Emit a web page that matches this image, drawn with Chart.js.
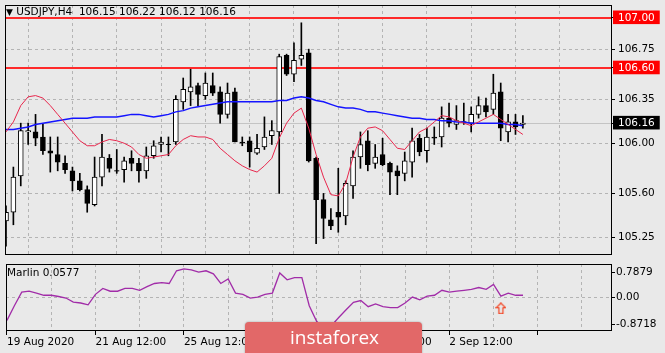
<!DOCTYPE html>
<html>
<head>
<meta charset="utf-8">
<title>USDJPY H4</title>
<script src="https://cdn.jsdelivr.net/npm/chart.js@4.4.1/dist/chart.umd.min.js"></script>
<style>
  html, body { margin: 0; padding: 0; background: #e9e9e9; }
  #wrap { position: relative; width: 665px; height: 353px; overflow: hidden; }
  #mainChart { position: absolute; left: 0; top: 0; }
  #subChart { position: absolute; left: 0; top: 258px; }
  .txt { position: absolute; font-family: 'DejaVu Sans', sans-serif; font-size: 10.5px; line-height: 12px; color: #000; white-space: pre; }
  #header { left: 6px; top: 5px; }
  #header .tri { font-size: 9px; }
  #marlinTitle { left: 7px; top: 266px; }
  #logo { position: absolute; left: 245px; top: 322px; width: 177px; height: 40px; border-radius: 4px; background: #e26868; box-shadow: 0 0 2px rgba(0,0,0,0.35); }
  #logo span { position: absolute; left: 45px; top: 2px; font-family: 'Open Sans', sans-serif; font-size: 19px; color: #fff; }
</style>
</head>
<body>
<div id="wrap">
  <canvas id="mainChart" width="665" height="260"></canvas>
  <canvas id="subChart" width="665" height="95"></canvas>
  <div id="header" class="txt"><span class="tri">▼</span> <span id="headerText"></span></div>
  <div id="marlinTitle" class="txt"></div>
  <div id="logo"><span>instaforex</span></div>
</div>
<script>
const symbolName = 'USDJPY,H4';

// H4 candles, oldest first
const opens = [105.38, 105.45, 105.74, 106.09, 106.09, 106.05, 105.94, 105.91, 105.84, 105.78,
  105.70, 105.63, 105.51, 105.73, 105.88, 105.78, 105.79, 105.88, 105.84, 105.78,
  105.90, 105.99, 105.99, 106.01, 106.33, 106.41, 106.46, 106.38, 106.46, 106.41,
  106.23, 106.41, 106.01, 106.02, 105.92, 105.97, 106.06, 106.09, 106.70, 106.55,
  106.67, 106.72, 105.88, 105.55, 105.39, 105.45, 105.42, 105.66, 105.89, 106.02,
  105.84, 105.91, 105.84, 105.78, 105.76, 105.85, 106.04, 105.94, 106.05, 106.05,
  106.20, 106.15, 106.17, 106.16, 106.23, 106.30, 106.27, 106.41, 106.09, 106.17,
  106.15];
const highs = [105.50, 105.81, 106.16, 106.16, 106.23, 106.15, 106.05, 106.05, 105.90, 105.81,
  105.76, 105.66, 105.89, 106.07, 105.91, 105.95, 105.89, 105.94, 105.88, 105.97,
  106.02, 106.05, 106.05, 106.38, 106.52, 106.59, 106.48, 106.56, 106.56, 106.45,
  106.48, 106.44, 106.05, 106.05, 106.07, 106.21, 106.18, 106.71, 106.71, 106.80,
  106.96, 106.75, 105.89, 105.60, 105.48, 105.80, 105.70, 105.94, 106.09, 106.10,
  105.99, 106.04, 105.85, 105.82, 105.93, 106.12, 106.07, 106.12, 106.13, 106.29,
  106.32, 106.30, 106.32, 106.29, 106.37, 106.36, 106.55, 106.48, 106.23, 106.23,
  106.22];
const lows = [105.18, 105.35, 105.66, 105.99, 105.98, 105.91, 105.77, 105.78, 105.76, 105.62,
  105.62, 105.45, 105.50, 105.66, 105.77, 105.76, 105.69, 105.78, 105.69, 105.72,
  105.88, 105.93, 105.90, 105.99, 106.27, 106.30, 106.30, 106.35, 106.38, 106.16,
  106.20, 106.01, 105.98, 105.81, 105.91, 105.95, 105.99, 105.60, 106.54, 106.49,
  106.62, 105.85, 105.20, 105.24, 105.31, 105.29, 105.35, 105.56, 105.80, 105.78,
  105.80, 105.82, 105.59, 105.59, 105.70, 105.73, 105.90, 105.85, 105.99, 105.97,
  106.13, 106.11, 106.15, 106.09, 106.20, 106.21, 106.23, 106.02, 106.01, 106.07,
  106.12];
const closes = [105.45, 105.73, 106.10, 106.10, 106.04, 105.94, 105.92, 105.85, 105.79, 105.70,
  105.63, 105.52, 105.73, 105.89, 105.80, 105.78, 105.86, 105.84, 105.78, 105.90,
  105.98, 106.01, 105.99, 106.35, 106.43, 106.45, 106.39, 106.48, 106.40, 106.23,
  106.40, 106.01, 106.00, 105.93, 105.96, 106.05, 106.10, 106.69, 106.55, 106.66,
  106.70, 105.86, 105.55, 105.40, 105.34, 105.41, 105.68, 105.89, 105.99, 105.83,
  105.89, 105.83, 105.77, 105.74, 105.86, 106.02, 105.93, 106.05, 106.04, 106.20,
  106.16, 106.18, 106.17, 106.23, 106.30, 106.25, 106.40, 106.12, 106.17, 106.13,
  106.16];

// moving averages
const redMa = [106.09, 106.17, 106.30, 106.37, 106.38, 106.36, 106.30, 106.23, 106.16, 106.09,
  106.02, 105.98, 105.98, 106.01, 106.03, 106.02, 106.00, 105.97, 105.91, 105.88,
  105.89, 105.90, 105.91, 105.98, 106.03, 106.06, 106.05, 106.05, 106.03, 105.96,
  105.91, 105.86, 105.82, 105.79, 105.77, 105.82, 105.88, 106.04, 106.16, 106.24,
  106.28, 106.12, 105.91, 105.73, 105.59, 105.58, 105.68, 105.89, 106.05, 106.12,
  106.13, 106.10, 106.03, 105.96, 105.95, 106.02, 106.09, 106.12, 106.17, 106.22,
  106.21, 106.18, 106.16, 106.14, 106.17, 106.20, 106.23, 106.19, 106.15, 106.11,
  106.07];
const blueMa = [106.11, 106.11, 106.12, 106.13, 106.15, 106.16, 106.17, 106.18, 106.19, 106.20,
  106.20, 106.20, 106.21, 106.21, 106.21, 106.21, 106.22, 106.23, 106.23, 106.22,
  106.21, 106.22, 106.23, 106.25, 106.26, 106.28, 106.29, 106.30, 106.31, 106.32,
  106.33, 106.33, 106.33, 106.33, 106.33, 106.33, 106.33, 106.34, 106.34, 106.36,
  106.37, 106.36, 106.34, 106.33, 106.31, 106.29, 106.28, 106.28, 106.27, 106.25,
  106.25, 106.24, 106.23, 106.22, 106.21, 106.20, 106.20, 106.19, 106.19, 106.18,
  106.18, 106.17, 106.17, 106.16, 106.16, 106.16, 106.16, 106.16, 106.15, 106.15,
  106.14];

// Marlin oscillator
const marlin = [-0.75, -0.28, 0.16, 0.19, 0.13, 0.06, 0.06, 0.02, -0.03, -0.16,
  -0.19, -0.25, 0.09, 0.28, 0.19, 0.19, 0.28, 0.28, 0.22, 0.34,
  0.44, 0.47, 0.44, 0.85, 0.91, 0.88, 0.81, 0.85, 0.75, 0.44,
  0.59, 0.13, 0.09, -0.03, 0.00, 0.09, 0.13, 0.78, 0.56, 0.63,
  0.63, -0.28, -0.78, -1.05, -0.92, -0.66, -0.41, -0.17, -0.11, -0.31,
  -0.22, -0.31, -0.34, -0.34, -0.19, 0.00, -0.09, 0.03, 0.06, 0.22,
  0.16, 0.19, 0.22, 0.25, 0.31, 0.25, 0.41, 0.03, 0.13, 0.06,
  0.06];
const marlinValueText = '0.0577';
const signalBars = [67];
const signalValues = [-0.36];

// axes
const timeLabels = ['19 Aug 2020', '21 Aug 12:00', '25 Aug 12:00', '27 Aug 12:00', '31 Aug 12:00', '2 Sep 12:00'];
const labelEvery = 12;
const gridEvery = 6;
const priceTicks = [105.25, 105.60, 106.00, 106.35, 106.75];
const levels = [107.00, 106.60];
const marlinTicks = [-0.8718, 0, 0.7879];
const marlinTickLabels = ['-0.8718', '0.00', '0.7879'];

// visible window
const xMin = -0.135, xMax = 82.07;
const yMin = 105.109, yMax = 107.102;
const mMin = -1.094, mMax = 1.069;

const gridColor = '#b4b4b4';
const axisFont = { family: 'DejaVu Sans', size: 10.5 };

const last = closes.length - 1;
const lastClose = closes[last];
const bars = closes.map((_, i) => i);

document.getElementById('headerText').textContent =
  `${symbolName}  ${opens[last].toFixed(2)} ${highs[last].toFixed(2)} ${lows[last].toFixed(2)} ${closes[last].toFixed(2)}`;
document.getElementById('marlinTitle').textContent = `Marlin ${marlinValueText}`;

const gridTicks = [];
for (let v = 0; v <= xMax; v += gridEvery) gridTicks.push(v);

const priceAxisValues = [...priceTicks, ...levels, lastClose].sort((a, b) => a - b);

// keep the plot box fixed: no extra room for overhanging tick labels
const noOverhang = s => {
  s.paddingTop = 0; s.paddingBottom = 0; s.paddingLeft = 0; s.paddingRight = 0;
};

const framePlugin = {
  id: 'frame',
  afterDraw(chart) {
    const { ctx, chartArea: a } = chart;
    ctx.save();
    ctx.strokeStyle = '#000';
    ctx.lineWidth = 1;
    ctx.strokeRect(Math.round(a.left) + 0.5, Math.round(a.top) + 0.5,
      Math.round(a.right - a.left) - 1, Math.round(a.bottom - a.top) - 1);
    ctx.restore();
  }
};

const levelsPlugin = {
  id: 'levels',
  beforeDatasetsDraw(chart) {
    const { ctx, chartArea: a, scales: { y } } = chart;
    ctx.save();
    // bid line
    const by = Math.round(y.getPixelForValue(lastClose)) + 0.5;
    ctx.strokeStyle = '#c4c4c4';
    ctx.lineWidth = 1;
    ctx.beginPath(); ctx.moveTo(a.left, by); ctx.lineTo(a.right, by); ctx.stroke();
    // horizontal levels
    ctx.strokeStyle = '#ff2a2a';
    ctx.lineWidth = 2;
    levels.forEach(v => {
      const py = Math.round(y.getPixelForValue(v));
      ctx.beginPath(); ctx.moveTo(a.left, py); ctx.lineTo(a.right, py); ctx.stroke();
    });
    ctx.restore();
  }
};

const isBoxed = v => levels.includes(v) || v === lastClose;

new Chart(document.getElementById('mainChart'), {
  type: 'bar',
  data: {
    datasets: [
      {
        type: 'line', label: 'MA fast',
        data: bars.map(i => ({ x: i, y: redMa[i] })),
        borderColor: '#e8264c', borderWidth: 1, pointRadius: 0, tension: 0, order: 0
      },
      {
        type: 'line', label: 'MA slow',
        data: bars.map(i => ({ x: i, y: blueMa[i] })),
        borderColor: '#1414ff', borderWidth: 1.5, pointRadius: 0, tension: 0, order: 0
      },
      {
        type: 'line', label: 'doji',
        data: bars.filter(i => Math.abs(opens[i] - closes[i]) < 0.005).map(i => ({ x: i, y: closes[i] })),
        showLine: false, pointStyle: 'line', pointRadius: 2.5,
        pointBorderColor: '#000', pointBorderWidth: 1, order: 1
      },
      {
        label: 'body',
        data: bars.map(i => ({ x: i, y: [opens[i], closes[i]] })),
        backgroundColor: bars.map(i => closes[i] >= opens[i] ? '#ffffff' : '#000000'),
        borderColor: '#000', borderWidth: 1, borderSkipped: false,
        barThickness: 5, grouped: false, order: 2
      },
      {
        label: 'wick',
        data: bars.map(i => ({ x: i, y: [lows[i], highs[i]] })),
        backgroundColor: '#000', borderWidth: 0,
        barThickness: 1, grouped: false, order: 3
      }
    ]
  },
  options: {
    responsive: false,
    animation: false,
    events: [],
    layout: { padding: { left: 2, top: 3, right: 0, bottom: 2 } },
    plugins: { legend: { display: false }, tooltip: { enabled: false } },
    scales: {
      x: {
        type: 'linear', min: xMin, max: xMax, offset: false,
        afterBuildTicks: s => { s.ticks = gridTicks.map(v => ({ value: v })); },
        afterFit: s => { s.height = 0; noOverhang(s); },
        ticks: { display: false },
        grid: { color: c => (c.tick && c.tick.value > 0) ? gridColor : 'transparent', drawTicks: false },
        border: { display: false, dash: [3, 3] }
      },
      y: {
        position: 'right', min: yMin, max: yMax,
        afterBuildTicks: s => { s.ticks = priceAxisValues.map(v => ({ value: v })); },
        afterFit: s => { s.width = 53; noOverhang(s); },
        ticks: {
          autoSkip: false, padding: 3, font: axisFont,
          color: c => isBoxed(c.tick.value) ? '#fff' : '#000',
          showLabelBackdrop: c => isBoxed(c.tick.value),
          backdropColor: c => levels.includes(c.tick.value) ? '#ff0000' : '#000000',
          backdropPadding: { left: 5, right: 5, top: 1, bottom: 0 },
          callback: v => v.toFixed(2)
        },
        grid: {
          color: c => (c.tick && priceTicks.includes(c.tick.value)) ? gridColor : 'transparent',
          tickLength: 3, tickColor: '#000', tickBorderDash: []
        },
        border: { display: false, dash: [3, 3] }
      }
    }
  },
  plugins: [levelsPlugin, framePlugin]
});

// outlined up arrow for the signal mark
const arrowIcon = document.createElement('canvas');
arrowIcon.width = 11;
arrowIcon.height = 12;
const g = arrowIcon.getContext('2d');
g.strokeStyle = '#f2401e';
g.lineWidth = 1.2;
g.beginPath();
g.moveTo(5.5, 0.8); g.lineTo(10.2, 5.5); g.lineTo(7.5, 5.5); g.lineTo(7.5, 11.3);
g.lineTo(3.5, 11.3); g.lineTo(3.5, 5.5); g.lineTo(0.8, 5.5); g.closePath();
g.stroke();

new Chart(document.getElementById('subChart'), {
  type: 'line',
  data: {
    datasets: [
      {
        label: 'Marlin',
        data: bars.map(i => ({ x: i, y: marlin[i] })),
        borderColor: '#a12ca8', borderWidth: 1.3, pointRadius: 0, tension: 0, order: 1
      },
      {
        label: 'signal',
        data: signalBars.map((b, k) => ({ x: b, y: signalValues[k] })),
        showLine: false, pointStyle: arrowIcon, pointRadius: 5, order: 0
      }
    ]
  },
  options: {
    responsive: false,
    animation: false,
    events: [],
    layout: { padding: { left: 2, top: 4, right: 0, bottom: 0 } },
    plugins: { legend: { display: false }, tooltip: { enabled: false } },
    scales: {
      x: {
        type: 'linear', min: xMin, max: xMax, offset: false,
        afterBuildTicks: s => { s.ticks = gridTicks.map(v => ({ value: v })); },
        afterFit: s => { s.height = 22; noOverhang(s); },
        ticks: {
          autoSkip: false, maxRotation: 0, minRotation: 0, align: 'start', padding: 1,
          font: axisFont, color: '#000',
          callback: v => v % labelEvery === 0 ? (timeLabels[v / labelEvery] || '') : ''
        },
        grid: {
          color: c => (c.tick && c.tick.value > 0) ? gridColor : 'transparent',
          tickLength: 4, tickBorderDash: [],
          tickColor: c => (c.tick && c.tick.value % labelEvery === 0) ? '#000' : 'transparent'
        },
        border: { display: false, dash: [3, 3] }
      },
      y: {
        position: 'right', min: mMin, max: mMax,
        afterBuildTicks: s => { s.ticks = marlinTicks.map(v => ({ value: v })); },
        afterFit: s => { s.width = 53; noOverhang(s); },
        ticks: {
          autoSkip: false, padding: 1, font: axisFont, color: '#000',
          callback: v => marlinTickLabels[marlinTicks.indexOf(v)]
        },
        grid: {
          color: c => (c.tick && c.tick.value === 0) ? gridColor : 'transparent',
          tickLength: 3, tickColor: '#000', tickBorderDash: []
        },
        border: { display: false, dash: [3, 3] }
      }
    }
  },
  plugins: [framePlugin]
});
</script>
</body>
</html>
